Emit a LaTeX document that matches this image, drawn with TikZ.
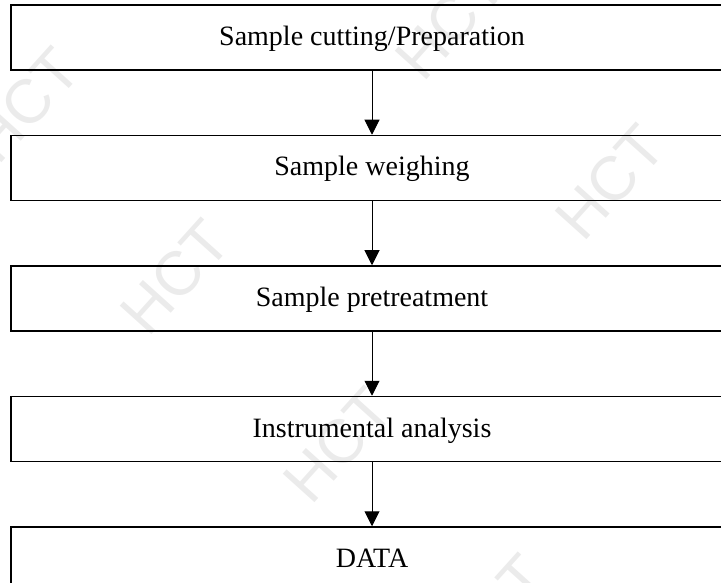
\documentclass[tikz,border=0pt]{standalone}
\usepackage{fontspec}
\setmainfont{Liberation Serif}
\newfontfamily\wmfont{Liberation Sans}
\usetikzlibrary{positioning,arrows.meta}

\begin{document}
\begin{tikzpicture}[
  x=1pt,y=-1pt,
  font=\fontsize{28}{32}\selectfont,
  stage/.style={draw=black,line width=1.5pt,minimum width=722pt,minimum height=65pt,text height=20pt,text depth=4pt,inner sep=0pt},
  flow/.style={draw=black,line width=1pt,-{Triangle[width=15pt,length=15pt]}},
  wmark/.style={text=black!8,font=\wmfont\fontsize{62}{62}\selectfont,rotate=48,inner sep=0pt}
]
\clip (0,0) rectangle (721,583);
% watermarks
\node[wmark] (w1) at (25,105) {HCT};
\node[wmark] (w2) at (450,22) {HCT};
\node[wmark] (w3) at (610,182) {HCT};
\node[wmark] (w4) at (175,277) {HCT};
\node[wmark] (w5) at (338,445) {HCT};
\node[wmark] (w6) at (492,612) {HCT};
% stages
\node[stage] (s1) at (372,37.5) {Sample cutting/Preparation};
\node[stage,below=64pt of s1] (s2) {Sample weighing};
\node[stage,below=64pt of s2] (s3) {Sample pretreatment};
\node[stage,below=64pt of s3] (s4) {Instrumental analysis};
\node[stage,below=64pt of s4] (s5) {DATA};
\draw[flow] (s1) -- (s2);
\draw[flow] (s2) -- (s3);
\draw[flow] (s3) -- (s4);
\draw[flow] (s4) -- (s5);
\end{tikzpicture}
\end{document}
